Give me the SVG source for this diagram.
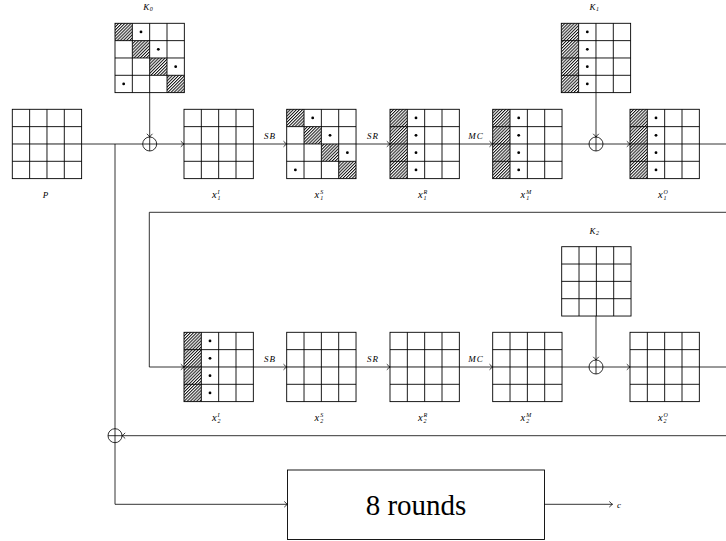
<svg xmlns="http://www.w3.org/2000/svg" xmlns:xlink="http://www.w3.org/1999/xlink" width="726" height="541" viewBox="0 0 726 541">
<style>
.gl{fill:none;stroke:#000;stroke-width:0.9}
.cn{fill:none;stroke:#000;stroke-width:0.8}
.lb{font-family:"Liberation Serif","DejaVu Serif",serif;font-style:italic;font-size:9px;fill:#000}
.xl{font-size:10.5px}
.sc{font-size:6px}
.op{letter-spacing:1px}
.big{font-family:"Liberation Serif","DejaVu Serif",serif;font-size:29px;fill:#000}
.xor{fill:#fff;stroke:#000;stroke-width:0.8}
</style>
<defs>
<pattern id="hatch" patternUnits="userSpaceOnUse" width="2.2" height="2.2" patternTransform="rotate(45)">
<rect width="2.2" height="2.2" fill="#fff"/>
<line x1="0.5" y1="0" x2="0.5" y2="2.2" stroke="#111" stroke-width="1"/>
</pattern>
<marker id="arr" viewBox="-4 -4 5 8" markerWidth="5" markerHeight="8" refX="0" refY="0" orient="auto" markerUnits="userSpaceOnUse" overflow="visible">
<path d="M-3.2,-2.8 Q-1,-0.6 0,0 Q-1,0.6 -3.2,2.8" fill="none" stroke="#000" stroke-width="0.8"/>
</marker>
<g id="grid">
<rect x="0" y="0" width="69.33" height="69.33" class="gl"/>
<path class="gl" d="M17.33 0V69.33M34.67 0V69.33M52 0V69.33M0 17.33H69.33M0 34.67H69.33M0 52H69.33"/>
</g>
<g id="diag">
<rect x="0" y="0" width="17.33" height="17.33" fill="url(#hatch)"/>
<rect x="17.33" y="17.33" width="17.33" height="17.33" fill="url(#hatch)"/>
<rect x="34.67" y="34.67" width="17.33" height="17.33" fill="url(#hatch)"/>
<rect x="52" y="52" width="17.33" height="17.33" fill="url(#hatch)"/>
<circle cx="26" cy="8.67" r="1.4"/>
<circle cx="43.33" cy="26" r="1.4"/>
<circle cx="60.67" cy="43.33" r="1.4"/>
<circle cx="8.67" cy="60.67" r="1.4"/>
</g>
<g id="col">
<rect x="0" y="0" width="17.33" height="69.33" fill="url(#hatch)"/>
<circle cx="26" cy="8.67" r="1.4"/>
<circle cx="26" cy="26" r="1.4"/>
<circle cx="26" cy="43.33" r="1.4"/>
<circle cx="26" cy="60.67" r="1.4"/>
</g>
<g id="xorsym">
<circle cx="0" cy="0" r="7" class="xor"/>
<path d="M-7 0H7M0 -7V7" class="cn"/>
</g>
</defs>

<g id="connectors">
<path class="cn" d="M81.6 144H184" marker-end="url(#arr)"/>
<path class="cn" d="M115 144V504.3H287.5" marker-end="url(#arr)"/>
<path class="cn" d="M149.7 92.6V137" marker-end="url(#arr)"/>
<path class="cn" d="M253.3 144H286.7" marker-end="url(#arr)"/>
<path class="cn" d="M356 144H390" marker-end="url(#arr)"/>
<path class="cn" d="M459.3 144H492.7" marker-end="url(#arr)"/>
<path class="cn" d="M562 144H630" marker-end="url(#arr)"/>
<path class="cn" d="M596 92.6V137" marker-end="url(#arr)"/>
<path class="cn" d="M699.3 144H726"/>
<path class="cn" d="M726 212.3H149.3V367H184" marker-end="url(#arr)"/>
<path class="cn" d="M253.3 367H286.7" marker-end="url(#arr)"/>
<path class="cn" d="M356 367H390" marker-end="url(#arr)"/>
<path class="cn" d="M459.3 367H492.7" marker-end="url(#arr)"/>
<path class="cn" d="M562 367H630" marker-end="url(#arr)"/>
<path class="cn" d="M596 315.9V360" marker-end="url(#arr)"/>
<path class="cn" d="M699.3 367H726"/>
<path class="cn" d="M726 435.7H122" marker-end="url(#arr)"/>
<path class="cn" d="M544.5 504.3H612.5" marker-end="url(#arr)"/>
<text class="lb op" x="270" y="138.5" text-anchor="middle">SB</text>
<text class="lb op" x="373" y="138.5" text-anchor="middle">SR</text>
<text class="lb op" x="476" y="138.5" text-anchor="middle">MC</text>
<text class="lb op" x="270" y="361.5" text-anchor="middle">SB</text>
<text class="lb op" x="373" y="361.5" text-anchor="middle">SR</text>
<text class="lb op" x="476" y="361.5" text-anchor="middle">MC</text>
</g>

<g id="node-P">
<use xlink:href="#grid" x="12.3" y="109.3"/>
<text class="lb" x="45.5" y="197.5" text-anchor="middle">P</text>
</g>
<g id="node-K0">
<use xlink:href="#diag" x="115" y="23.3"/>
<use xlink:href="#grid" x="115" y="23.3"/>
<text class="lb"><tspan x="143.2" y="9.5">K</tspan><tspan class="sc" x="149.8" y="11">0</tspan></text>
</g>
<g id="node-xor0"><use xlink:href="#xorsym" x="149.7" y="144"/></g>
<g id="node-x1I">
<use xlink:href="#grid" x="184" y="109.3"/>
<text class="lb"><tspan class="xl" x="212" y="197.5">x</tspan><tspan class="sc" x="217.6" y="194">I</tspan><tspan class="sc" x="217.6" y="200">1</tspan></text>
</g>
<g id="node-x1S">
<use xlink:href="#diag" x="286.7" y="109.3"/>
<use xlink:href="#grid" x="286.7" y="109.3"/>
<text class="lb"><tspan class="xl" x="314.6" y="197.5">x</tspan><tspan class="sc" x="320.2" y="194">S</tspan><tspan class="sc" x="320.2" y="200">1</tspan></text>
</g>
<g id="node-x1R">
<use xlink:href="#col" x="390" y="109.3"/>
<use xlink:href="#grid" x="390" y="109.3"/>
<text class="lb"><tspan class="xl" x="418" y="197.5">x</tspan><tspan class="sc" x="423.6" y="194">R</tspan><tspan class="sc" x="423.6" y="200">1</tspan></text>
</g>
<g id="node-x1M">
<use xlink:href="#col" x="492.7" y="109.3"/>
<use xlink:href="#grid" x="492.7" y="109.3"/>
<text class="lb"><tspan class="xl" x="520.6" y="197.5">x</tspan><tspan class="sc" x="526.2" y="194">M</tspan><tspan class="sc" x="526.2" y="200">1</tspan></text>
</g>
<g id="node-K1">
<use xlink:href="#col" x="561.3" y="23.3"/>
<use xlink:href="#grid" x="561.3" y="23.3"/>
<text class="lb"><tspan x="589.5" y="9.5">K</tspan><tspan class="sc" x="596.1" y="11">1</tspan></text>
</g>
<g id="node-xor1"><use xlink:href="#xorsym" x="596" y="144"/></g>
<g id="node-x1O">
<use xlink:href="#col" x="630" y="109.3"/>
<use xlink:href="#grid" x="630" y="109.3"/>
<text class="lb"><tspan class="xl" x="658" y="197.5">x</tspan><tspan class="sc" x="663.6" y="194">O</tspan><tspan class="sc" x="663.6" y="200">1</tspan></text>
</g>

<g id="node-x2I">
<use xlink:href="#col" x="184" y="332.3"/>
<use xlink:href="#grid" x="184" y="332.3"/>
<text class="lb"><tspan class="xl" x="212" y="420.5">x</tspan><tspan class="sc" x="217.6" y="417">I</tspan><tspan class="sc" x="217.6" y="423">2</tspan></text>
</g>
<g id="node-x2S">
<use xlink:href="#grid" x="286.7" y="332.3"/>
<text class="lb"><tspan class="xl" x="314.6" y="420.5">x</tspan><tspan class="sc" x="320.2" y="417">S</tspan><tspan class="sc" x="320.2" y="423">2</tspan></text>
</g>
<g id="node-x2R">
<use xlink:href="#grid" x="390" y="332.3"/>
<text class="lb"><tspan class="xl" x="418" y="420.5">x</tspan><tspan class="sc" x="423.6" y="417">R</tspan><tspan class="sc" x="423.6" y="423">2</tspan></text>
</g>
<g id="node-x2M">
<use xlink:href="#grid" x="492.7" y="332.3"/>
<text class="lb"><tspan class="xl" x="520.6" y="420.5">x</tspan><tspan class="sc" x="526.2" y="417">M</tspan><tspan class="sc" x="526.2" y="423">2</tspan></text>
</g>
<g id="node-K2">
<use xlink:href="#grid" x="561.7" y="246.7"/>
<text class="lb"><tspan x="589.5" y="233.5">K</tspan><tspan class="sc" x="596.1" y="235">2</tspan></text>
</g>
<g id="node-xor2"><use xlink:href="#xorsym" x="596" y="367"/></g>
<g id="node-x2O">
<use xlink:href="#grid" x="630" y="332.3"/>
<text class="lb"><tspan class="xl" x="658" y="420.5">x</tspan><tspan class="sc" x="663.6" y="417">O</tspan><tspan class="sc" x="663.6" y="423">2</tspan></text>
</g>

<g id="node-xor3"><use xlink:href="#xorsym" x="115" y="435.7"/></g>
<g id="node-rounds">
<rect x="287.5" y="470" width="257" height="69.5" class="gl"/>
<text class="big" x="416" y="514.5" text-anchor="middle">8 rounds</text>
</g>
<g id="node-C">
<text class="lb" x="617" y="507.5">c</text>
</g>
</svg>
